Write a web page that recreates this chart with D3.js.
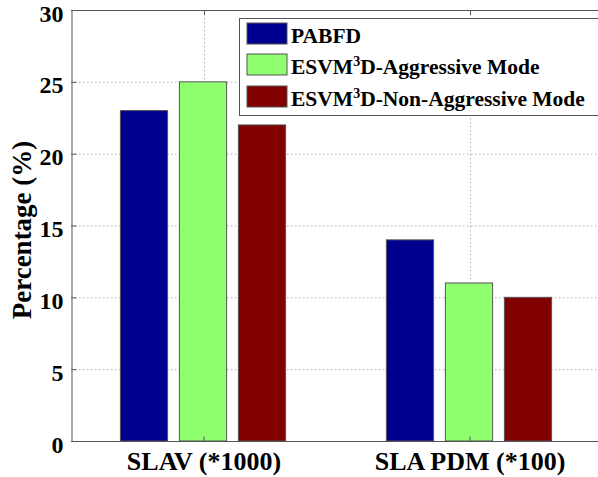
<!DOCTYPE html>
<html>
<head>
<meta charset="utf-8">
<script src="https://cdn.jsdelivr.net/npm/d3@7"></script>
<style>
  html, body { margin: 0; padding: 0; background: #fff; overflow: hidden; }
  svg { display: block; }
  svg text { font-family: 'Liberation Serif', 'Times New Roman', serif !important; font-weight: bold; fill: #000; }
  .ytick text { font-size: 24px !important; }
  .xtick text { font-size: 26px !important; }
</style>
</head>
<body>
<svg id="chart" width="598" height="477"></svg>
<script>
const categories = ["SLAV (*1000)", "SLA PDM (*100)"];
const seriesNames = ["PABFD", "ESVM3D-Aggressive Mode", "ESVM3D-Non-Aggressive Mode"];
const seriesColors = ["#00008f", "#8fff6f", "#800000"];
const pabfd = [23, 14];
const aggressive = [25, 11];
const nonAggressive = [22, 10];
const yTicks = [0, 5, 10, 15, 20, 25, 30];

const seriesValues = [pabfd, aggressive, nonAggressive];

const svg = d3.select("#chart");
const margin = { left: 71, top: 10, right: 603, bottom: 441 };

const x = d3.scaleBand().domain(categories).range([margin.left, margin.right]).paddingInner(0).paddingOuter(0);
const xs = d3.scaleBand().domain(seriesNames).range([43.5, 220.5]).paddingInner(0.2).paddingOuter(0.1);
const y = d3.scaleLinear().domain([0, 30]).range([margin.bottom, margin.top]);

// grid
const grid = svg.append("g");
grid.selectAll("line.gy").data(yTicks.filter(t => t > 0 && t < 30)).enter().append("line")
  .attr("x1", margin.left).attr("x2", margin.right)
  .attr("y1", d => y(d) + 0.5).attr("y2", d => y(d) + 0.5)
  .attr("stroke", "#b0b0b0").attr("stroke-width", 1).attr("stroke-dasharray", "1.5,2.5");
grid.selectAll("line.gx").data(categories).enter().append("line")
  .attr("x1", d => Math.round(x(d) + x.bandwidth() / 2) + 0.5)
  .attr("x2", d => Math.round(x(d) + x.bandwidth() / 2) + 0.5)
  .attr("y1", margin.top).attr("y2", margin.bottom)
  .attr("stroke", "#b0b0b0").attr("stroke-width", 1).attr("stroke-dasharray", "1.5,2.5");

// bars
const groups = svg.append("g").selectAll("g").data(categories).enter().append("g")
  .attr("transform", d => `translate(${x(d)},0)`);
groups.selectAll("rect").data((c, ci) => seriesNames.map((s, si) => ({ s, si, v: seriesValues[si][ci] })))
  .enter().append("rect")
  .attr("x", d => xs(d.s))
  .attr("width", xs.bandwidth())
  .attr("y", d => y(d.v))
  .attr("height", d => y(0) - y(d.v))
  .attr("fill", d => seriesColors[d.si])
  .attr("stroke", "#555").attr("stroke-width", 1);

// axes box
const axisColor = "#555";
svg.append("line").attr("x1", margin.left).attr("x2", margin.right + 5).attr("y1", margin.bottom + 0.5).attr("y2", margin.bottom + 0.5).attr("stroke", axisColor);
svg.append("line").attr("x1", margin.left).attr("x2", margin.right + 5).attr("y1", margin.top + 0.5).attr("y2", margin.top + 0.5).attr("stroke", axisColor);

const yAxis = d3.axisLeft(y).tickValues(yTicks).tickSize(-5).tickPadding(8).tickFormat(d3.format("d"));
const gy = svg.append("g").attr("class", "ytick").attr("transform", `translate(${margin.left + 0.5},0)`).call(yAxis);
gy.attr("font-family", null).attr("font-size", null);
gy.select(".domain").attr("stroke", axisColor);
gy.selectAll(".tick line").attr("stroke", axisColor);
gy.selectAll("text").attr("fill", "#000").attr("dy", "0.46em");

const xAxis = d3.axisBottom(x).tickSize(-5).tickPadding(10);
const gx = svg.append("g").attr("class", "xtick").attr("transform", `translate(0,${margin.bottom + 0.5})`).call(xAxis);
gx.attr("font-family", null).attr("font-size", null);
gx.select(".domain").remove();
gx.selectAll(".tick line").attr("stroke", axisColor);
gx.selectAll("text").attr("fill", "#000").attr("dy", "0.71em");

// top ticks
svg.append("g").selectAll("line").data(categories).enter().append("line")
  .attr("x1", d => Math.round(x(d) + x.bandwidth() / 2) + 0.5)
  .attr("x2", d => Math.round(x(d) + x.bandwidth() / 2) + 0.5)
  .attr("y1", margin.top).attr("y2", margin.top + 5).attr("stroke", axisColor);

// y label
svg.append("text")
  .attr("transform", `translate(31,230) rotate(-90)`)
  .attr("text-anchor", "middle")
  .style("font-size", "27px")
  .text("Percentage (%)");

// legend
const legend = svg.append("g");
legend.append("rect").attr("x", 239.5).attr("y", 18.5).attr("width", 370).attr("height", 97)
  .attr("fill", "#fff").attr("stroke", axisColor).attr("stroke-width", 1);
const rowY = [23, 54, 86];
seriesNames.forEach((name, i) => {
  legend.append("rect").attr("x", 247).attr("y", rowY[i]).attr("width", 40).attr("height", 21)
    .attr("fill", seriesColors[i]).attr("stroke", "#555").attr("stroke-width", 1);
  const t = legend.append("text").attr("x", 291).attr("y", rowY[i] + 20).style("font-size", "21.5px");
  if (name.startsWith("ESVM3D")) {
    t.append("tspan").text("ESVM");
    t.append("tspan").text("3").style("font-size", "14px").attr("dy", "-8");
    t.append("tspan").text(name.slice(5)).attr("dy", "8");
  } else {
    t.text(name);
  }
});
</script>
</body>
</html>
